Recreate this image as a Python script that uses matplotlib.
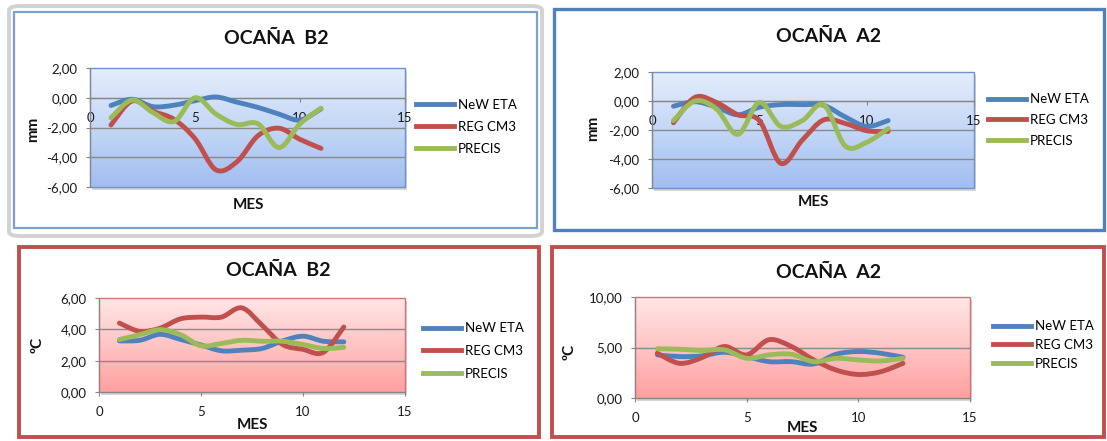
import numpy as np
import matplotlib
matplotlib.use('Agg')
import matplotlib.pyplot as plt
from matplotlib.path import Path
from matplotlib.patches import PathPatch, Rectangle, FancyBboxPatch
from matplotlib.lines import Line2D
from matplotlib.colors import LinearSegmentedColormap
from matplotlib.ticker import FuncFormatter
from matplotlib.transforms import offset_copy

plt.rcParams['font.family'] = ['Lato', 'DejaVu Sans']

W, H = 1107, 441

# --- data ---
series_names = ['NeW ETA', 'REG CM3', 'PRECIS']
series_colors = ['#4f81bd', '#c0504d', '#9bbb59']

mes_mm = [1, 2, 3, 4, 5, 6, 7, 8, 9, 10, 11]
eta_b2_mm = [-0.52, -0.10, -0.60, -0.50, -0.20, 0.05, -0.30, -0.65, -1.10, -1.50, -0.75]
reg_b2_mm = [-1.83, -0.22, -0.90, -1.45, -2.75, -4.85, -4.30, -2.55, -2.05, -2.80, -3.40]
prec_b2_mm = [-1.35, -0.15, -1.00, -1.60, 0.00, -1.10, -1.80, -1.75, -3.35, -1.75, -0.70]

eta_a2_mm = [-0.36, -0.05, -0.43, -0.95, -0.43, -0.25, -0.25, -0.30, -1.10, -1.75, -1.35]
reg_a2_mm = [-1.50, 0.25, -0.10, -0.95, -1.35, -4.30, -2.70, -1.30, -1.55, -2.05, -2.10]
prec_a2_mm = [-1.35, 0.00, -0.55, -2.30, -0.10, -1.75, -1.35, -0.27, -3.10, -2.85, -1.90]

mes_c = [1, 2, 3, 4, 5, 6, 7, 8, 9, 10, 11, 12]
eta_b2_c = [3.26, 3.30, 3.68, 3.35, 3.00, 2.63, 2.67, 2.78, 3.26, 3.56, 3.24, 3.20]
reg_b2_c = [4.40, 3.87, 4.08, 4.67, 4.78, 4.78, 5.37, 4.25, 3.03, 2.72, 2.53, 4.15]
prec_b2_c = [3.35, 3.66, 3.98, 3.66, 2.95, 3.10, 3.30, 3.24, 3.24, 3.03, 2.78, 2.85]

eta_a2_c = [4.27, 4.10, 4.17, 4.53, 4.10, 3.60, 3.60, 3.37, 4.33, 4.60, 4.43, 4.03]
reg_a2_c = [4.43, 3.43, 4.00, 5.10, 4.27, 5.77, 5.10, 3.77, 2.77, 2.33, 2.60, 3.43]
prec_a2_c = [4.87, 4.83, 4.70, 4.77, 3.93, 4.27, 4.33, 3.60, 3.93, 3.77, 3.67, 3.93]

x_ticks = [0, 5, 10, 15]


def fx(x):
    return x / W


def fy(y):
    return 1 - y / H


def smooth_path(x, y):
    # Excel style smoothed line: cubic bezier through every point
    n = len(x)
    verts = [(x[0], y[0])]
    codes = [Path.MOVETO]
    for i in range(n - 1):
        p0 = i - 1 if i > 0 else i
        p3 = i + 2 if i + 2 < n else i + 1
        c1 = (x[i] + (x[i + 1] - x[p0]) / 6, y[i] + (y[i + 1] - y[p0]) / 6)
        c2 = (x[i + 1] - (x[p3] - x[i]) / 6, y[i + 1] - (y[p3] - y[i]) / 6)
        verts += [c1, c2, (x[i + 1], y[i + 1])]
        codes += [Path.CURVE4] * 3
    return Path(verts, codes)


def comma_fmt(v, pos):
    return ('%.2f' % v).replace('.', ',')


def make_chart(box, x, ys, ylim, yticks, grid, cols, edge, ylabel, zero_axis,
               title, title_xy, ylabel_xy, mes_xy, leg_xy, leg_space):
    l, t, r, b = box
    ax = fig.add_axes([fx(l), fy(b), (r - l) / W, (b - t) / H])
    ax.patch.set_visible(False)

    cmap = LinearSegmentedColormap.from_list('pa', cols)
    ax.imshow(np.linspace(0, 1, 256).reshape(-1, 1), extent=[0, 1, 0, 1],
              transform=ax.transAxes, cmap=cmap, aspect='auto', zorder=0)
    shadow = Rectangle((0, 0), 1, 1, facecolor='#bcbcbc', edgecolor='none', alpha=0.6,
                       transform=offset_copy(ax.transAxes, fig, x=2, y=-3, units='dots'),
                       zorder=-1, clip_on=False)
    ax.add_patch(shadow)
    ax.add_patch(Rectangle((0, 0), 1, 1, transform=ax.transAxes, fill=False,
                           edgecolor=edge, lw=1.0, zorder=1, clip_on=False))

    for g in grid:
        ax.axhline(g, color='#8a8a8a', lw=1.0, zorder=1.2)

    for yv, c in zip(ys, series_colors):
        ax.add_patch(PathPatch(smooth_path(x, yv), fill=False, edgecolor=c, lw=3.5,
                               capstyle='round', joinstyle='round', zorder=3))

    ax.set_xlim(0, 15)
    ax.set_ylim(*ylim)
    ax.set_xticks(x_ticks)
    ax.set_xticklabels([str(v) for v in x_ticks])
    ax.set_yticks(yticks)
    ax.yaxis.set_major_formatter(FuncFormatter(comma_fmt))

    for s in ['top', 'right']:
        ax.spines[s].set_visible(False)
    ax.spines['left'].set_color('#868686')
    ax.spines['bottom'].set_color('#868686')
    if zero_axis:
        ax.spines['bottom'].set_position(('data', 0))
    ax.tick_params(axis='both', direction='out', length=3, color='#868686',
                   labelsize=9.5, labelcolor='#1a1a1a')
    ax.tick_params(axis='x', pad=7)
    ax.tick_params(axis='y', pad=6)

    fig.text(fx(title_xy[0]), fy(title_xy[1]), title, ha='center', va='center',
             fontsize=14, fontweight='bold', color='#111111')
    fig.text(fx(ylabel_xy[0]), fy(ylabel_xy[1]), ylabel, ha='center', va='center',
             rotation=90, fontsize=11, fontweight='bold', color='#111111')
    fig.text(fx(mes_xy[0]), fy(mes_xy[1]), 'MES', ha='center', va='center',
             fontsize=11, fontweight='bold', color='#111111')

    handles = [Line2D([0], [0], color=c, lw=3.5) for c in series_colors]
    ax.legend(handles, series_names, loc='center left', bbox_to_anchor=(fx(leg_xy[0]), fy(leg_xy[1])),
              bbox_transform=fig.transFigure, frameon=False, borderpad=0, borderaxespad=0,
              handlelength=2.9, handletextpad=0.3, labelspacing=leg_space, fontsize=9.5)
    return ax


fig = plt.figure(figsize=(W / 100, H / 100), dpi=100)

# chart frames
fig.add_artist(FancyBboxPatch((fx(9), fy(236)), fx(533), 230 / H,
                              boxstyle='round,pad=0,rounding_size=0.01', transform=fig.transFigure,
                              fill=False, edgecolor='#d2d2d2', lw=2.8))
fig.add_artist(Rectangle((fx(14), fy(228)), fx(523), 216 / H, transform=fig.transFigure,
                         fill=False, edgecolor='#7f9fcf', lw=1.6))
fig.add_artist(Rectangle((fx(553.5), fy(230.5)), fx(550.5), 221.5 / H, transform=fig.transFigure,
                         fill=False, edgecolor='#4f81bd', lw=2.4))
fig.add_artist(Rectangle((fx(19), fy(437)), fx(520), 190 / H, transform=fig.transFigure,
                         fill=False, edgecolor='#c0504d', lw=2.8))
fig.add_artist(Rectangle((fx(551.5), fy(437)), fx(552.5), 190 / H, transform=fig.transFigure,
                         fill=False, edgecolor='#c0504d', lw=2.8))

blue_bg = ['#e4edfb', '#c4d7f6', '#a0bef0']
red_bg = ['#ffe6e6', '#ffc4c4', '#ffa0a0']

make_chart((90, 68, 405, 187), mes_mm, [eta_b2_mm, reg_b2_mm, prec_b2_mm], (-6, 2),
           [-6, -4, -2, 0, 2], [-4, -2, 0], blue_bg, '#6d93c8', 'mm', True,
           'OCAÑA  B2', (276, 38), (33, 129), (248, 205), (416, 127), 0.75)

make_chart((652, 72, 974, 188), mes_mm, [eta_a2_mm, reg_a2_mm, prec_a2_mm], (-6, 2),
           [-6, -4, -2, 0, 2], [-4, -2, 0], blue_bg, '#6d93c8', 'mm', True,
           'OCAÑA  A2', (828, 37), (593, 128), (813, 202), (988, 120), 0.65)

make_chart((99, 298, 405, 392), mes_c, [eta_b2_c, reg_b2_c, prec_b2_c], (0, 6),
           [0, 2, 4, 6], [2, 4], red_bg, '#d27474', 'ºC', False,
           'OCAÑA  B2', (278, 271), (37, 345), (252, 425), (423, 351), 0.8)

make_chart((635, 297, 970, 398), mes_c, [eta_a2_c, reg_a2_c, prec_a2_c], (0, 10),
           [0, 5, 10], [5], red_bg, '#d27474', 'ºC', False,
           'OCAÑA  A2', (829, 272), (569, 352), (802, 428), (993, 345), 0.5)

fig.savefig('out.png', dpi=100)
